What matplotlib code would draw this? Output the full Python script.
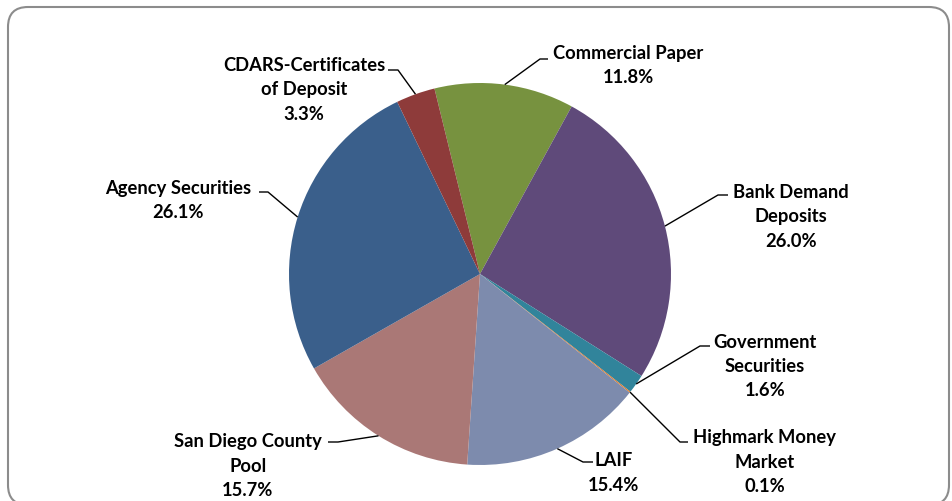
import numpy as np
import matplotlib
matplotlib.use("Agg")
import matplotlib.pyplot as plt
from matplotlib.patches import FancyBboxPatch

# Portfolio mix (clockwise from the top)
categories = ["Commercial Paper", "Bank Demand Deposits", "Government Securities",
              "Highmark Money Market", "LAIF", "San Diego County Pool",
              "Agency Securities", "CDARS-Certificates of Deposit"]
shares = [11.8, 26.0, 1.6, 0.1, 15.4, 15.7, 26.1, 3.3]
label_text = ["Commercial Paper", "Bank Demand\nDeposits", "Government\nSecurities",
              "Highmark Money\nMarket", "LAIF", "San Diego County\nPool",
              "Agency Securities", "CDARS-Certificates\nof Deposit"]

colors = ["#77923f", "#5f4a7a", "#31849b", "#e07b2a", "#7d8bad", "#aa7876",
          "#3a5f8b", "#8e3b3a"]

W, H = 953, 501

# label block centre (x, first-line y) and leader elbow (x_text_end, x_elbow, y), in pixels
label_pos = [(628, 53), (791, 192), (765, 342), (765, 438), (614, 461),
             (248, 442), (178, 188), (304, 65)]
elbows = [(548, 540, 59), (728, 718, 195), (710, 700, 346), (688, 680, 442),
          (593, 583, 462), (328, 338, 442), (259, 268, 192), (388, 398, 70)]


def Y(y):
    return H - y


fig = plt.figure(figsize=(W / 100, H / 100), dpi=100)
ax = fig.add_axes([0, 0, 1, 1])

cx, cy, r = 480, 274, 191
wedges, _ = ax.pie(shares, colors=colors, startangle=103.8, counterclock=False,
                   center=(cx, Y(cy)), radius=r, frame=True,
                   wedgeprops=dict(linewidth=0))
ax.set_xlim(0, W)
ax.set_ylim(0, H)
ax.set_aspect("equal")
ax.axis("off")

font = dict(family=["Lato", "DejaVu Sans"], fontweight="bold", fontsize=13.2)

for w, txt, pct, (tx, ty), (x1, x2, ey) in zip(wedges, label_text, shares, label_pos, elbows):
    mid = np.deg2rad((w.theta1 + w.theta2) / 2)
    px = cx + r * np.cos(mid)
    py = Y(cy) + r * np.sin(mid)
    ax.plot([x1, x2, px], [Y(ey), Y(ey), py], color="black", lw=1.0,
            solid_capstyle="butt")
    lines = txt.split("\n") + [f"{pct:.1f}%"]
    for i, line in enumerate(lines):
        ax.text(tx, Y(ty + 24.5 * i), line, ha="center", va="center", **font)

border = FancyBboxPatch((8, Y(505)), 941, 498, boxstyle="round,pad=0,rounding_size=20",
                        facecolor="none", edgecolor="#8c8c8c", linewidth=1.5)
ax.add_patch(border)

fig.savefig("out.png", dpi=100)
